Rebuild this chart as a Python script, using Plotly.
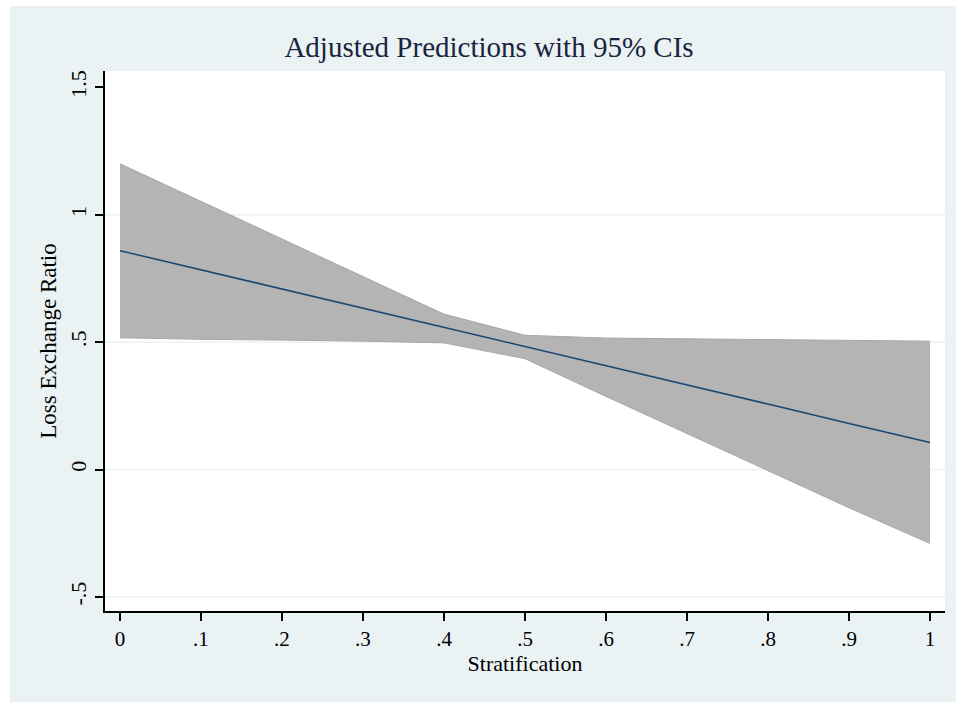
import plotly.graph_objects as go

# margins at(stratification = (0(.1)1))
strat = [0, 0.1, 0.2, 0.3, 0.4, 0.5, 0.6, 0.7, 0.8, 0.9, 1.0]
pred = [0.859, 0.784, 0.708, 0.633, 0.558, 0.483, 0.407, 0.332, 0.257, 0.181, 0.106]
ci_hi = [1.20, 1.052, 0.905, 0.757, 0.61, 0.527, 0.516, 0.513, 0.510, 0.507, 0.504]
ci_lo = [0.517, 0.511, 0.508, 0.504, 0.497, 0.435, 0.287, 0.142, -0.004, -0.15, -0.29]

xtick_vals = [0, 0.1, 0.2, 0.3, 0.4, 0.5, 0.6, 0.7, 0.8, 0.9, 1]
xtick_text = ["0", ".1", ".2", ".3", ".4", ".5", ".6", ".7", ".8", ".9", "1"]
ytick_vals = [-0.5, 0, 0.5, 1, 1.5]
ytick_text = ["-.5", "0", ".5", "1", "1.5"]
grid_vals = [-0.5, 0, 0.5, 1]  # stata leaves out the one at the top edge

bg = "#EAF2F3"
font = "Liberation Serif"

fig = go.Figure()

# CI band (lower edge, then upper filled down to it)
fig.add_trace(go.Scatter(x=strat, y=ci_lo, mode="lines",
                         line=dict(color="#A8A8A8", width=1), showlegend=False))
fig.add_trace(go.Scatter(x=strat, y=ci_hi, mode="lines", fill="tonexty",
                         fillcolor="#B4B4B4",
                         line=dict(color="#A8A8A8", width=1), showlegend=False))
# predicted line
fig.add_trace(go.Scatter(x=strat, y=pred, mode="lines",
                         line=dict(color="#1A476F", width=1.5), showlegend=False))

shapes = [
    # white strips round the graph region, as in the export
    dict(type="rect", xref="paper", yref="paper", x0=-0.13, x1=(10 - 105) / 840,
         y0=-0.2, y1=1.2, fillcolor="white", line_width=0, layer="below"),
    dict(type="rect", xref="paper", yref="paper", x0=-0.13, x1=1.02,
         y0=(611 - 6) / 540, y1=1.2, fillcolor="white", line_width=0, layer="below"),
]
for g in grid_vals:
    shapes.append(dict(type="line", xref="paper", yref="y", x0=0, x1=1, y0=g, y1=g,
                       line=dict(color=bg, width=1.5), layer="below"))

fig.update_layout(
    width=956, height=702,
    margin=dict(l=105, r=11, t=71, b=91),
    paper_bgcolor=bg, plot_bgcolor="white",
    font=dict(family=font, color="black", size=21),
    title=dict(text="Adjusted Predictions with 95% CIs", x=489 / 956, xref="container",
               xanchor="center", y=1 - 47 / 702, yanchor="middle",
               font=dict(family=font, size=29, color="#1A2440")),
    shapes=shapes,
)

fig.update_xaxes(
    range=[-0.0185, 1.0185], tickvals=xtick_vals, ticktext=xtick_text,
    showgrid=False, zeroline=False,
    showline=True, linecolor="black", linewidth=1.5,
    ticks="outside", ticklen=8, tickwidth=1.5, tickcolor="black",
    tickfont=dict(size=21),
    title=dict(text="Stratification", font=dict(size=22), standoff=2),
)
fig.update_yaxes(
    range=[-0.555, 1.564], tickvals=ytick_vals, ticktext=ytick_text,
    tickangle=-90,
    showgrid=False, zeroline=False,
    showline=True, linecolor="black", linewidth=1.5,
    ticks="outside", ticklen=8, tickwidth=1.5, tickcolor="black",
    tickfont=dict(size=22),
    title=dict(text="Loss Exchange Ratio", font=dict(size=23), standoff=3),
)

# page body margin would push the 956x702 figure past the window
fig.write_html("out.html", config={"displayModeBar": False},
               post_script="document.body.style.margin='0';")
